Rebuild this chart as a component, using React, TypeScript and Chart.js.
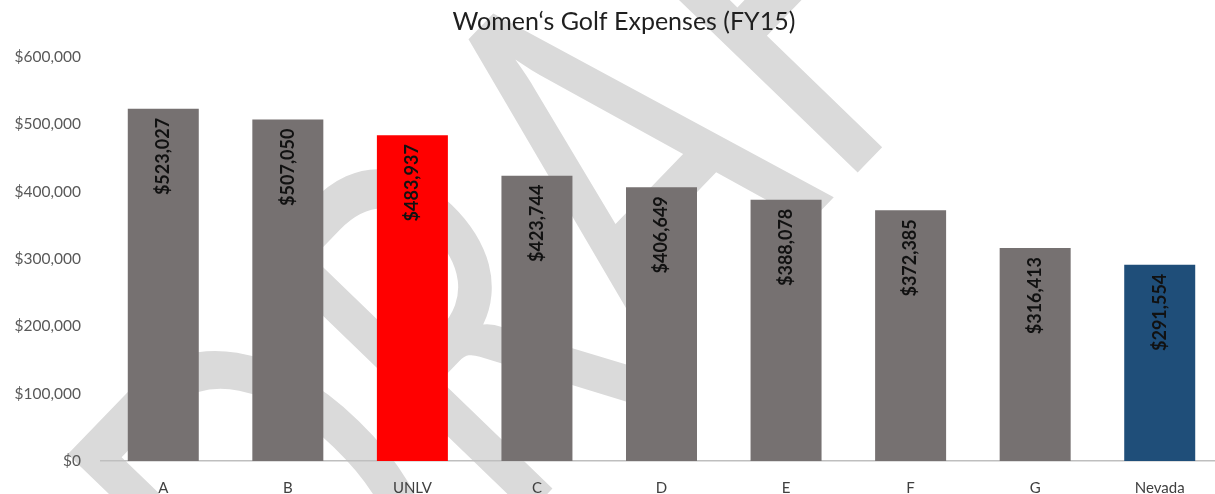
import React, { useEffect, useRef } from "react";
import { Chart, registerables } from "chart.js";

Chart.register(...registerables);

const categories = ["A", "B", "UNLV", "C", "D", "E", "F", "G", "Nevada"];
const expenses = [523027, 507050, 483937, 423744, 406649, 388078, 372385, 316413, 291554];
const barColors = ["#767171", "#767171", "#FF0000", "#767171", "#767171", "#767171", "#767171", "#767171", "#1F4E79"];
const yTickValues = [0, 100000, 200000, 300000, 400000, 500000, 600000];
const titleText = "Women\u2018s Golf Expenses (FY15)";
const watermarkText = "DRAFT";

const fmt = (v: number) => "$" + v.toLocaleString("en-US");

const watermarkPlugin = {
  id: "watermark",
  beforeDraw(chart: any) {
    const ctx = chart.ctx;
    ctx.save();
    ctx.fillStyle = "#dadada";
    ctx.font = "400 520px Lato";
    ctx.textAlign = "left";
    ctx.textBaseline = "alphabetic";
    ctx.translate(64, 456);
    ctx.rotate((-46 * Math.PI) / 180);
    ctx.scale(0.7, 1);
    ctx.fillText(watermarkText, -42, 374);
    ctx.restore();
  },
};

const titlePlugin = {
  id: "customTitle",
  afterDraw(chart: any) {
    const ctx = chart.ctx;
    ctx.save();
    ctx.fillStyle = "#1f1f1f";
    ctx.font = "25px Lato";
    ctx.textAlign = "center";
    ctx.textBaseline = "middle";
    ctx.fillText(titleText, 624, 22);
    ctx.restore();
  },
};

const labelPlugin = {
  id: "barLabels",
  afterDatasetsDraw(chart: any) {
    const ctx = chart.ctx;
    const meta = chart.getDatasetMeta(0);
    meta.data.forEach((bar: any, i: number) => {
      ctx.save();
      ctx.translate(bar.x, bar.y + 9);
      ctx.rotate(-Math.PI / 2);
      ctx.font = "bold 18px Lato";
      ctx.fillStyle = "#111111";
      ctx.textAlign = "right";
      ctx.textBaseline = "middle";
      ctx.fillText(fmt(expenses[i]), 0, 0);
      ctx.restore();
    });
  },
};

export default function App() {
  const ref = useRef<HTMLCanvasElement | null>(null);
  useEffect(() => {
    if (!ref.current) return;
    const chart = new Chart(ref.current, {
      type: "bar",
      data: {
        labels: categories,
        datasets: [
          {
            data: expenses,
            backgroundColor: barColors,
            barPercentage: 0.57,
            categoryPercentage: 1,
          },
        ],
      },
      options: {
        responsive: false,
        animation: false,
        layout: { padding: { left: 0, right: 10, top: 57, bottom: 0 } },
        plugins: {
          legend: { display: false },
          title: { display: false },
          tooltip: { enabled: false },
        },
        scales: {
          y: {
            min: 0,
            max: 600000,
            afterBuildTicks: (s: any) => {
              s.ticks = yTickValues.map((v) => ({ value: v }));
            },
            afterFit: (s: any) => {
              s.width = 101;
            },
            ticks: {
              callback: (v: any) => fmt(Number(v)),
              font: { family: "Lato", size: 15.5 },
              color: "#595959",
              padding: 20,
            },
            grid: { display: false, drawTicks: false },
            border: { display: false },
          },
          x: {
            afterFit: (s: any) => {
              s.height = 33;
            },
            grid: { display: false, drawTicks: false },
            border: { display: true, color: "#bfbfbf", width: 1.5 },
            ticks: {
              font: { family: "Lato", size: 15 },
              color: "#404040",
              padding: 18,
            },
          },
        },
      },
      plugins: [watermarkPlugin, titlePlugin, labelPlugin],
    });
    return () => chart.destroy();
  }, []);
  return (
    <div style={{ position: "absolute", left: 0, top: 0, width: 1215, height: 494, overflow: "hidden", background: "#fff" }}>
      <canvas ref={ref} width={1232} height={494} />
    </div>
  );
}
